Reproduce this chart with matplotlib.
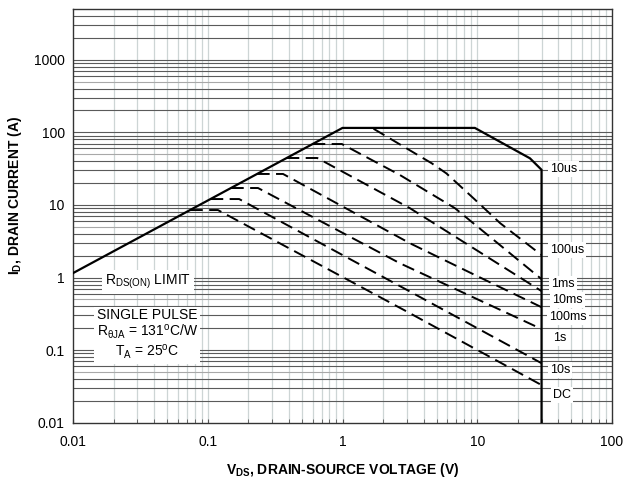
import matplotlib
matplotlib.use("Agg")
import matplotlib.pyplot as plt
import numpy as np

plt.rcParams['font.family'] = ['Liberation Sans', 'DejaVu Sans']
plt.rcParams['mathtext.fontset'] = 'custom'
plt.rcParams['mathtext.rm'] = 'Liberation Sans'
plt.rcParams['mathtext.it'] = 'Liberation Sans:italic'
plt.rcParams['mathtext.bf'] = 'Liberation Sans:bold'
plt.rcParams['mathtext.default'] = 'regular'

# ---------------- data ----------------
# solid boundary: RDS(on) limit, current limit, power limit, BVDSS
boundary_v = [0.01, 1.0, 9.6, 24.6, 30.0, 30.0]
boundary_i = [1.15, 115, 115, 43.9, 30.5, 0.01]

curve_names = ["100us", "1ms", "10ms", "100ms", "1s", "10s", "DC"]
v_100us = [1.7, 4.6, 5.9, 9.4, 14.8, 30.0]
i_100us = [112, 37.4, 27.2, 12.3, 5.6, 2.04]
v_1ms = [0.60, 0.99, 2.67, 6.84, 30.0]
i_1ms = [69, 69, 25.8, 9.0, 0.95]
v_10ms = [0.385, 0.65, 3.17, 30.0]
i_10ms = [44.3, 44.3, 9.0, 0.65]
v_100ms = [0.232, 0.362, 3.17, 10.5, 30.0]
i_100ms = [26.7, 26.7, 2.96, 1.0, 0.39]
v_1s = [0.149, 0.236, 2.67, 30.0]
i_1s = [17.1, 17.1, 1.57, 0.195]
v_10s = [0.105, 0.171, 3.17, 30.0]
i_10s = [12.05, 12.05, 0.64, 0.066]
v_dc = [0.074, 0.119, 3.0, 30.0]
i_dc = [8.5, 8.5, 0.34, 0.033]

curves_v = [v_100us, v_1ms, v_10ms, v_100ms, v_1s, v_10s, v_dc]
curves_i = [i_100us, i_1ms, i_10ms, i_100ms, i_1s, i_10s, i_dc]

x_ticks = [0.01, 0.1, 1, 10, 100]
x_ticklabels = ["0.01", "0.1", "1", "10", "100"]
y_ticks = [0.01, 0.1, 1, 10, 100, 1000]
y_ticklabels = ["0.01", "0.1", "1", "10", "100", "1000"]

# label positions (styling)
right_labels = ["10us", "100us", "1ms", "10ms", "100ms", "1s", "10s", "DC"]
right_label_y = [31, 2.39, 0.815, 0.49, 0.286, 0.147, 0.053, 0.024]
right_label_x = [34.5, 34.5, 35.5, 36.0, 34.2, 36.3, 34.5, 36.3]

# ---------------- figure ----------------
fig = plt.figure(figsize=(6.28, 4.91), dpi=100)
ax = fig.add_axes([73/628, 1-422.7/491, (612-73)/628, (422.7-9)/491])
ax.set_xscale('log')
ax.set_yscale('log')
ax.set_xlim(0.01, 100)
ax.set_ylim(0.01, 5000)

# gridlines drawn manually for colour control
for dec in [0.01, 0.1, 1, 10]:
    for m in range(1, 10):
        xv = dec * m
        if 0.01 < xv < 100:
            ax.axvline(xv, color='#cdd5d5', lw=0.9, zorder=0)
for dec in [0.01, 0.1, 1, 10, 100, 1000]:
    for m in range(1, 10):
        yv = dec * m
        if 0.01 < yv < 5000:
            col = '#a8a8a8' if m == 5 else '#5a5a5a'
            ax.axhline(yv, color=col, lw=0.8, zorder=0)

ax.plot(boundary_v, boundary_i, color='black', lw=1.6, zorder=3,
        solid_joinstyle='miter')
for v, i in zip(curves_v, curves_i):
    ax.plot(v, i, color='black', lw=1.4, ls=(0, (6.5, 3.3)), zorder=3)

for txt, xx, yy in zip(right_labels, right_label_x, right_label_y):
    ax.text(xx, yy, txt, fontsize=9, ha='left', va='center', zorder=4,
            bbox=dict(facecolor='white', edgecolor='none', pad=1.5))

ax.text(0.036, 0.86, r"R$_{DS(ON)}$ LIMIT", fontsize=10, ha='center',
        va='center', zorder=4,
        bbox=dict(facecolor='white', edgecolor='none', pad=2))
ax.text(0.0355, 0.165,
        "SINGLE PULSE\n" + r"R$_{\theta JA}$ = 131$^{o}$C/W" + "\n" + r"T$_{A}$ = 25$^{o}$C",
        fontsize=10, ha='center', va='center', zorder=4, linespacing=1.08,
        bbox=dict(facecolor='white', edgecolor='none', pad=2))

ax.set_xticks(x_ticks)
ax.set_xticklabels(x_ticklabels, fontsize=10)
ax.set_yticks(y_ticks)
ax.set_yticklabels(y_ticklabels, fontsize=10)
ax.tick_params(axis='x', which='both', direction='in', length=3, color='#555555', pad=9)
ax.tick_params(axis='y', which='both', length=0, pad=6)
ax.yaxis.set_minor_locator(matplotlib.ticker.NullLocator())

for s in ax.spines.values():
    s.set_color('#333333')
    s.set_linewidth(1.0)

fig.text(343/628, 1-470/491, r"V$_{\mathbf{DS}}$, DRAIN-SOURCE VOLTAGE (V)",
         fontsize=10, fontweight='bold', ha='center', va='center')
fig.text(15/628, 1-195/491, r"I$_{\mathbf{D}}$, DRAIN CURRENT (A)",
         fontsize=10, fontweight='bold', ha='center', va='center',
         rotation=90, rotation_mode='anchor')

fig.savefig("out.png", dpi=100)
